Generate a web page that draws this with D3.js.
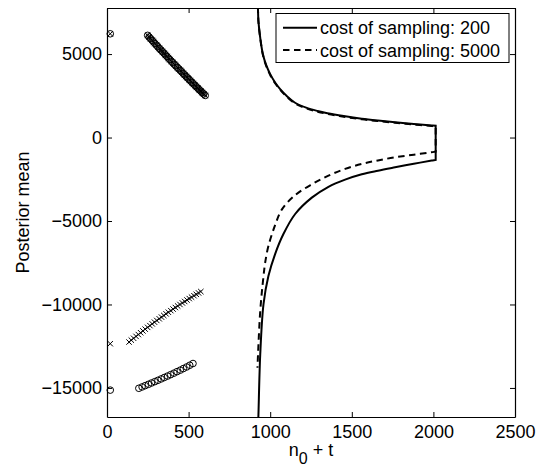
<!DOCTYPE html>
<html>
<head>
<meta charset="utf-8">
<script src="https://cdn.jsdelivr.net/npm/d3@7"></script>
<style>
  html, body { margin: 0; padding: 0; background: #fff; }
  svg { display: block; }
  text { font-family: "Liberation Sans", Arial, Helvetica, sans-serif; }
</style>
</head>
<body>
<div id="chart"></div>
<script>
// ---------------- data ----------------
const xTicks = [0, 500, 1000, 1500, 2000, 2500];
const yTicks = [-15000, -10000, -5000, 0, 5000];
const xLabelMain = "n";
const xLabelSub = "0";
const xLabelRest = " + t";
const yLabel = "Posterior mean";
const legendLabels = ["cost of sampling: 200", "cost of sampling: 5000"];

// boundary for cost of sampling 200 (solid)
const c200UpperX = [923, 925, 928, 940, 955, 975, 1000, 1030, 1061, 1100, 1150, 1220, 1290, 1350, 1450, 1561, 1660, 1765, 1880, 1990, 2014];
const c200UpperY = [8500, 7740, 6960, 5900, 5000, 4350, 3800, 3300, 2900, 2500, 2100, 1790, 1590, 1460, 1290, 1130, 1020, 920, 815, 725, 705];
const c200LowerX = [2014, 1990, 1880, 1765, 1660, 1561, 1459, 1357, 1255, 1153, 1081, 1030, 989, 959, 939, 928, 925];
const c200LowerY = [-1338, -1380, -1570, -1783, -1985, -2200, -2520, -2950, -3600, -4580, -5780, -6980, -8300, -9981, -12982, -16583, -17500];

// boundary for cost of sampling 5000 (dashed)
const c5000UpperX = [923, 925, 928, 940, 955, 975, 1000, 1030, 1061, 1100, 1150, 1220, 1290, 1350, 1450, 1561, 1660, 1765, 1880, 1990, 2014];
const c5000UpperY = [8500, 7740, 6940, 5870, 4960, 4300, 3750, 3250, 2860, 2460, 2060, 1750, 1550, 1420, 1250, 1090, 985, 885, 780, 690, 670];
const c5000LowerX = [2014, 1990, 1880, 1765, 1660, 1561, 1459, 1357, 1255, 1153, 1072, 1030, 989, 969, 959, 939, 922];
const c5000LowerY = [-850, -880, -1030, -1182, -1370, -1579, -1879, -2281, -2800, -3450, -4300, -5250, -6500, -7500, -8300, -10383, -13787];

// sample path A (circles and crosses)
const pathAX = [20, 249, 258, 267, 276, 285, 294, 303, 312, 321, 330, 340, 349, 358, 367, 376, 385, 394, 403, 412, 421, 431, 440, 449, 458, 467, 476, 485, 494, 503, 512, 521, 530, 539, 548, 557, 566, 575, 584, 593, 602];
const pathAY = [6215, 6122, 6023, 5924, 5825, 5727, 5629, 5531, 5434, 5337, 5241, 5145, 5049, 4954, 4859, 4764, 4670, 4576, 4483, 4390, 4297, 4205, 4113, 4021, 3930, 3839, 3748, 3658, 3568, 3479, 3390, 3301, 3213, 3125, 3038, 2951, 2864, 2777, 2691, 2606, 2520];

// sample path B (crosses)
const pathBX = [20, 135, 149, 163, 178, 192, 206, 220, 234, 249, 263, 277, 291, 305, 320, 334, 348, 362, 376, 391, 405, 419, 433, 447, 462, 476, 490, 504, 518, 533, 547, 561, 575];
const pathBY = [-12350, -12250, -12136, -12024, -11912, -11802, -11692, -11584, -11477, -11371, -11266, -11162, -11059, -10957, -10857, -10757, -10659, -10561, -10465, -10369, -10275, -10182, -10090, -9999, -9909, -9820, -9732, -9646, -9560, -9475, -9392, -9309, -9228];

// sample path C (circles)
const pathCX = [20, 195, 215, 234, 254, 273, 293, 312, 332, 351, 371, 390, 410, 429, 449, 468, 488, 507, 527];
const pathCY = [-15130, -15020, -14940, -14862, -14782, -14702, -14622, -14542, -14458, -14373, -14288, -14203, -14113, -14023, -13933, -13838, -13743, -13640, -13535];

// ---------------- chart ----------------
const W = 544, H = 469;
const L = 107, R = 515, T = 8, B = 417;
const FONT = 18;

const svg = d3.select("#chart").append("svg")
  .attr("width", W).attr("height", H).attr("viewBox", `0 0 ${W} ${H}`);

const x = d3.scaleLinear().domain([0, 2500]).range([L, R]);
const y = d3.scaleLinear().domain([-16740, 7760]).range([B, T]);

svg.append("defs").append("clipPath").attr("id", "clip")
  .append("rect").attr("x", L).attr("y", T).attr("width", R - L).attr("height", B - T);

const zip = (xs, ys) => xs.map((v, i) => [v, ys[i]]);
const line = d3.line().x(d => x(d[0])).y(d => y(d[1])).curve(d3.curveCatmullRom.alpha(0.5));

function boundaryPath(ux, uy, lx, ly) {
  const up = line(zip(ux, uy));
  const low = line(zip(lx, ly));
  return up + "L" + low.slice(1);
}

const curves = svg.append("g").attr("clip-path", "url(#clip)");
curves.append("path")
  .attr("d", boundaryPath(c5000UpperX, c5000UpperY, c5000LowerX, c5000LowerY))
  .attr("fill", "none").attr("stroke", "#000").attr("stroke-width", 2)
  .attr("stroke-dasharray", "6.5,4.5");
curves.append("path")
  .attr("d", boundaryPath(c200UpperX, c200UpperY, c200LowerX, c200LowerY))
  .attr("fill", "none").attr("stroke", "#000").attr("stroke-width", 2)
  .attr("stroke-linejoin", "miter");

// markers
const CR = 3.3, XS = 2.7, MW = 1;
function drawCircles(xs, ys) {
  svg.append("g").selectAll("circle").data(zip(xs, ys)).join("circle")
    .attr("cx", d => x(d[0])).attr("cy", d => y(d[1])).attr("r", CR)
    .attr("fill", "none").attr("stroke", "#000").attr("stroke-width", MW);
}
function drawCrosses(xs, ys) {
  svg.append("g").selectAll("path").data(zip(xs, ys)).join("path")
    .attr("transform", d => `translate(${x(d[0])},${y(d[1])})`)
    .attr("d", `M${-XS},${-XS}L${XS},${XS}M${-XS},${XS}L${XS},${-XS}`)
    .attr("fill", "none").attr("stroke", "#000").attr("stroke-width", MW);
}
drawCircles(pathAX, pathAY);
drawCrosses(pathAX, pathAY);
drawCrosses(pathBX, pathBY);
drawCircles(pathCX, pathCY);

// axes
function styleAxis(g) {
  g.attr("font-family", null).attr("font-size", null);
  g.selectAll("path.domain").attr("stroke", "#000").attr("stroke-width", 1.2);
  g.selectAll(".tick line").attr("stroke", "#000").attr("stroke-width", 1);
  g.selectAll(".tick text").attr("fill", "#000").style("font-size", FONT + "px");
}
svg.append("g").attr("transform", `translate(0,${B})`)
  .call(d3.axisBottom(x).tickValues(xTicks).tickSize(-5).tickSizeOuter(0).tickPadding(8).tickFormat(d3.format("d")))
  .call(styleAxis);
svg.append("g").attr("transform", `translate(0,${T})`)
  .call(d3.axisTop(x).tickValues(xTicks).tickSize(-5).tickSizeOuter(0).tickFormat(""))
  .call(styleAxis);
svg.append("g").attr("transform", `translate(${L},0)`)
  .call(d3.axisLeft(y).tickValues(yTicks).tickSize(-5).tickSizeOuter(0).tickPadding(5).tickFormat(d3.format("d")))
  .call(styleAxis);
svg.append("g").attr("transform", `translate(${R},0)`)
  .call(d3.axisRight(y).tickValues(yTicks).tickSize(-5).tickSizeOuter(0).tickFormat(""))
  .call(styleAxis);

// axis labels
const xl = svg.append("text").attr("x", (L + R) / 2).attr("y", 456)
  .attr("text-anchor", "middle").style("font-size", FONT + "px").attr("fill", "#000");
xl.append("tspan").text(xLabelMain);
xl.append("tspan").attr("dy", 8).style("font-size", "16px").text(xLabelSub);
xl.append("tspan").attr("dy", -8).text(xLabelRest);

svg.append("text").attr("transform", `translate(29,${(T + B) / 2}) rotate(-90)`)
  .attr("text-anchor", "middle").style("font-size", FONT + "px").attr("fill", "#000")
  .text(yLabel);

// legend
const lg = svg.append("g");
lg.append("rect").attr("x", 276).attr("y", 13.5).attr("width", 233).attr("height", 49)
  .attr("fill", "#fff").attr("stroke", "#000").attr("stroke-width", 1);
const dashes = [null, "6.5,4.5"];
legendLabels.forEach((lab, i) => {
  const cy = 27.7 + i * 22.3;
  lg.append("line").attr("x1", 283).attr("x2", 317).attr("y1", cy).attr("y2", cy)
    .attr("stroke", "#000").attr("stroke-width", 2).attr("stroke-dasharray", dashes[i]);
  lg.append("text").attr("x", 320).attr("y", cy + 6.6).style("font-size", FONT + "px")
    .attr("fill", "#000").text(lab);
});
</script>
</body>
</html>
